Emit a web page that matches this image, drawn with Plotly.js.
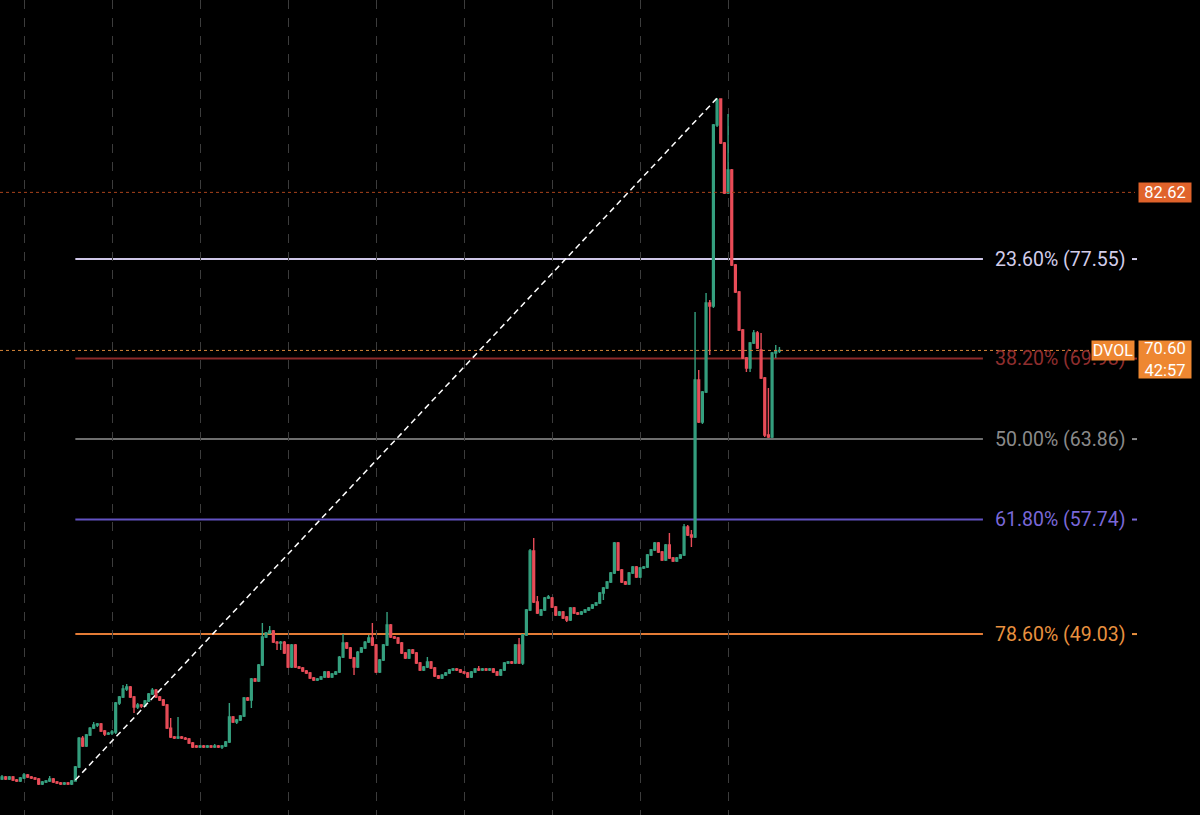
<!DOCTYPE html>
<html>
<head>
<meta charset="utf-8">
<script src="https://cdn.plot.ly/plotly-3.0.1.min.js"></script>
<style>html,body{margin:0;padding:0;background:#000;}#chart{width:1200px;height:815px;}</style>
</head>
<body>
<div id="chart"></div>
<script>
// Hourly DVOL candles
const opens = [38.01,38.16,38.01,38.16,37.93,37.85,38.08,38.31,38.16,38.08,38.01,37.63,37.78,37.85,38.01,37.78,37.70,37.63,37.70,37.63,
37.85,38.92,41.12,40.52,41.35,41.88,42.11,42.19,41.66,41.43,41.50,41.58,43.79,44.24,44.85,45.00,44.24,43.48,43.63,43.56,
43.94,44.47,44.77,44.24,44.01,43.63,41.88,41.20,41.12,41.20,41.12,41.05,40.74,40.52,40.44,40.52,40.44,40.52,40.44,40.52,
40.44,40.52,40.82,42.72,42.34,42.49,42.80,44.17,44.01,45.61,45.46,46.68,48.81,49.11,49.26,48.42,48.35,48.42,48.20,46.52,
48.20,46.52,46.45,46.22,46.07,45.69,45.54,45.61,45.76,46.14,45.76,45.99,46.14,47.28,48.35,47.97,47.21,46.52,47.66,47.97,
48.42,48.73,48.20,46.14,47.06,48.20,49.72,48.81,48.73,48.35,47.59,47.21,47.82,47.59,46.83,46.30,46.52,46.90,46.45,45.84,
45.69,45.91,46.07,46.30,46.37,46.30,46.14,46.07,45.76,46.14,46.37,46.30,46.37,46.30,46.37,46.14,45.91,46.30,46.83,46.90,
46.83,48.20,46.83,48.96,50.86,55.35,51.47,50.48,50.86,51.77,51.77,51.09,50.48,50.71,50.33,50.10,51.01,50.63,50.55,50.71,
50.86,51.01,51.24,51.39,52.15,52.53,52.99,53.67,55.95,53.90,52.99,52.84,53.67,54.13,53.37,54.05,54.13,55.04,55.42,55.95,
55.27,54.66,55.80,54.81,54.58,54.81,55.04,57.17,56.56,56.41,68.35,65.16,67.44,74.21,73.98,87.74,89.72,86.37,82.57,84.32,
77.10,75.04,72.15,70.02,69.26,71.16,71.92,70.63,68.50,64.17,64.02,70.40,70.55];
const highs = [38.31,38.23,38.23,38.23,38.01,38.16,38.46,38.39,38.23,38.16,38.08,37.85,37.93,38.23,38.08,37.85,37.78,37.78,37.78,37.93,
39.00,41.20,41.28,41.43,41.96,42.34,42.26,42.26,41.73,41.58,41.73,43.86,44.32,45.15,45.23,45.08,44.32,43.79,43.71,44.01,
44.55,44.93,44.85,44.32,44.09,43.71,42.65,41.28,42.72,41.28,41.20,41.12,40.82,40.59,40.59,40.59,40.59,40.59,40.67,40.59,
40.59,40.90,43.79,42.80,42.57,42.87,44.24,44.24,45.69,45.69,46.75,49.87,49.19,49.64,49.34,48.50,48.50,48.50,48.27,48.27,
48.27,46.60,46.52,46.30,46.14,45.76,45.69,45.84,46.22,46.22,46.07,46.22,47.36,49.03,48.42,48.05,47.28,47.74,48.05,48.50,
48.96,49.87,48.27,47.13,48.27,50.71,49.79,48.88,48.81,48.42,47.66,47.89,47.89,47.66,46.90,46.60,47.28,46.98,46.52,45.91,
45.99,46.14,46.37,46.45,46.45,46.37,46.22,46.14,46.22,46.45,46.60,46.45,46.45,46.45,46.45,46.22,46.37,46.90,46.98,46.98,
48.27,48.73,49.03,50.93,55.50,56.33,51.92,50.93,51.85,52.00,51.85,51.16,50.78,50.78,50.40,51.09,51.09,50.71,50.78,50.93,
51.09,51.32,51.47,52.23,52.61,53.06,53.75,56.03,56.03,53.98,53.06,53.75,54.20,54.20,54.13,54.20,55.12,55.50,56.03,56.03,
55.35,55.88,56.71,54.89,54.89,55.12,57.40,57.32,56.94,73.52,69.11,67.51,74.97,74.43,87.82,89.79,89.74,86.45,88.58,84.40,
77.18,75.12,72.23,70.10,71.24,72.15,72.08,71.92,68.58,67.74,70.48,71.01,70.86];
const lows = [37.93,37.93,37.93,37.85,37.78,37.78,38.01,38.08,38.01,37.93,37.55,37.55,37.70,37.78,37.70,37.63,37.55,37.55,37.55,37.55,
37.93,38.84,40.44,40.44,41.28,41.81,41.96,41.58,41.28,41.35,41.35,41.43,43.63,44.17,44.70,44.17,43.03,43.33,43.41,43.48,
43.86,44.39,44.17,43.94,43.56,41.81,41.12,41.05,41.05,41.05,40.97,40.67,40.36,40.36,40.36,40.36,40.36,40.36,40.36,40.36,
40.29,40.44,40.74,42.26,42.19,42.42,42.72,43.94,43.41,45.38,45.38,46.60,48.73,49.03,48.35,47.82,47.82,47.51,46.45,46.45,
46.45,46.37,46.14,45.99,45.61,45.46,45.46,45.54,45.69,45.69,45.69,45.91,46.07,47.21,47.89,47.13,45.91,46.45,47.59,47.89,
48.35,48.12,46.07,46.07,46.98,48.12,48.73,48.65,48.27,47.51,47.13,47.13,47.51,46.75,46.22,46.22,46.45,46.37,45.76,45.61,
45.61,45.84,45.99,46.22,46.22,46.07,45.99,45.69,45.69,46.07,46.22,46.22,46.22,46.22,46.07,45.84,45.84,46.22,46.75,46.75,
46.75,46.75,46.68,48.88,50.78,51.39,50.55,50.40,50.78,51.69,51.01,50.40,50.40,50.17,49.95,50.02,50.55,50.48,50.48,50.63,
50.78,50.93,51.16,51.32,51.62,52.46,52.91,53.60,53.82,52.91,52.76,52.76,53.60,53.29,53.29,53.98,54.05,54.97,55.35,55.19,
54.58,54.58,54.74,54.51,54.51,54.74,54.97,56.49,55.65,56.33,65.08,65.01,67.36,70.25,73.83,87.59,86.30,82.49,82.49,77.02,
74.97,72.08,69.94,68.96,68.96,71.09,70.71,68.43,64.02,63.94,63.94,70.02,70.40];
const closes = [38.16,38.01,38.16,37.93,37.85,38.08,38.31,38.16,38.08,38.01,37.63,37.78,37.85,38.01,37.78,37.70,37.63,37.70,37.63,37.85,
38.92,41.12,40.52,41.35,41.88,42.11,42.19,41.66,41.43,41.50,41.58,43.79,44.24,44.85,45.00,44.24,43.48,43.63,43.56,43.94,
44.47,44.77,44.24,44.01,43.63,41.88,41.20,41.12,41.20,41.12,41.05,40.74,40.44,40.44,40.52,40.44,40.52,40.44,40.52,40.44,
40.52,40.82,42.72,42.34,42.49,42.80,44.17,44.01,45.61,45.46,46.68,48.81,49.11,49.26,48.42,48.35,48.42,47.59,46.52,48.20,
46.52,46.45,46.22,46.07,45.69,45.54,45.61,45.76,46.14,45.76,45.99,46.14,47.28,48.35,47.97,47.21,46.52,47.66,47.97,48.42,
48.73,48.20,46.14,47.06,48.20,49.72,48.81,48.73,48.35,47.59,47.21,47.82,47.59,46.83,46.30,46.52,46.90,46.45,45.84,45.69,
45.91,46.07,46.30,46.37,46.30,46.14,46.07,45.76,46.14,46.37,46.30,46.37,46.30,46.37,46.14,45.91,46.30,46.83,46.90,46.83,
48.20,46.83,48.96,50.86,55.35,51.47,50.63,50.86,51.77,51.85,51.09,50.48,50.71,50.25,50.10,51.01,50.63,50.55,50.71,50.86,
51.01,51.24,51.39,52.15,52.53,52.99,53.67,55.95,53.90,52.99,52.84,53.67,54.13,53.37,54.05,54.13,55.04,55.42,55.95,55.27,
54.66,55.80,54.81,54.58,54.81,55.04,57.17,56.56,56.41,68.35,65.16,67.44,74.21,73.98,87.74,89.64,86.37,82.57,84.32,77.10,
75.04,72.15,70.02,69.26,71.16,71.92,70.78,68.50,64.17,64.02,70.40,70.55,70.60];

// Day separators (candle index of each new day)
const dayBoundaries = [6,30,54,78,102,126,150,174,198];

// Fibonacci retracement (drawn from swing low to swing high)
const swingLowIndex = 20, swingLow = 37.93;
const swingHighIndex = 195, swingHigh = 89.79;
const fibLabels = ['23.60%','38.20%','50.00%','61.80%','78.60%'];
const fibValues = [77.55, 69.98, 63.86, 57.74, 49.03];
const fibLineColors = ['#cfc7e8','#8c2a2a','#6e6e6e','#6252c2','#e47c36'];
const fibTextColors = ['#d2cdea','#8f2e2e','#8a8a8a','#7a68d8','#e9913f'];
const fibEndIndex = 267.5;

// Price-scale markers
const highMarker = 82.62;
const lastPrice = 70.60;
const symbol = 'DVOL';
const countdown = '42:57';

const idx = closes.map((_, i) => i);
const green = '#35a07f', red = '#e84c58';

const traces = [
  {
    type: 'candlestick', x: idx, open: opens, high: highs, low: lows, close: closes,
    increasing: {line: {color: green, width: 1.4}, fillcolor: green},
    decreasing: {line: {color: red, width: 1.4}, fillcolor: red},
    whiskerwidth: 0, hoverinfo: 'skip', showlegend: false
  },
  {
    type: 'scatter', mode: 'lines', x: [swingLowIndex, swingHighIndex], y: [swingLow, swingHigh],
    line: {color: '#ffffff', width: 1.5, dash: '6px,4px'}, hoverinfo: 'skip', showlegend: false
  }
];

const shapes = [];
const annotations = [];
const plotW = 1135;
fibValues.forEach((v, k) => {
  shapes.push({type: 'line', xref: 'x', yref: 'y', x0: swingLowIndex, x1: fibEndIndex, y0: v, y1: v,
    line: {color: fibLineColors[k], width: 2}, layer: 'below'});
  shapes.push({type: 'line', xref: 'paper', yref: 'y', x0: 1132 / plotW, x1: 1137 / plotW, y0: v, y1: v,
    line: {color: fibTextColors[k], width: 2}});
  annotations.push({xref: 'paper', yref: 'y', x: 993 / plotW, y: v, xanchor: 'left', yanchor: 'middle',
    text: fibLabels[k] + ' (' + v.toFixed(2) + ')', showarrow: false,
    font: {family: 'Roboto, Arial, sans-serif', size: 19.5, color: fibTextColors[k]}});
});
// dotted price lines
shapes.push({type: 'line', xref: 'paper', yref: 'y', x0: 0, x1: 1, y0: highMarker, y1: highMarker,
  line: {color: '#a8421c', width: 1, dash: 'dot'}});
shapes.push({type: 'line', xref: 'paper', yref: 'y', x0: 0, x1: 1091 / plotW, y0: lastPrice, y1: lastPrice,
  line: {color: '#d8873a', width: 1, dash: 'dot'}});

annotations.push({xref: 'paper', yref: 'y', x: 1165 / plotW, y: highMarker, xanchor: 'center', yanchor: 'middle',
  text: highMarker.toFixed(2), showarrow: false, bgcolor: '#e0632b', width: 52, height: 19, borderpad: 0,
  font: {family: 'Roboto, Arial, sans-serif', size: 16.5, color: '#ffffff'}});
annotations.push({xref: 'paper', yref: 'y', x: 1113 / plotW, y: lastPrice, xanchor: 'center', yanchor: 'middle',
  text: symbol, showarrow: false, bgcolor: '#ee8731', width: 42, height: 19, borderpad: 0,
  font: {family: 'Roboto, Arial, sans-serif', size: 16, color: '#ffffff'}});
annotations.push({xref: 'paper', yref: 'y', x: 1165 / plotW, y: lastPrice, xanchor: 'center', yanchor: 'top', yshift: 10,
  text: lastPrice.toFixed(2) + '<br>' + countdown, showarrow: false, bgcolor: '#ee8731', width: 52, height: 37, borderpad: 0,
  font: {family: 'Roboto, Arial, sans-serif', size: 16.5, color: '#ffffff'}});

const layout = {
  width: 1200, height: 815,
  paper_bgcolor: '#000000', plot_bgcolor: '#000000',
  margin: {l: 0, r: 65, t: 0, b: 0},
  showlegend: false,
  xaxis: {range: [-0.545, 308.97], tickmode: 'array', tickvals: dayBoundaries, showticklabels: false, ticks: '',
    showgrid: true, gridcolor: '#3c3c3c', griddash: 'dash', gridwidth: 1, zeroline: false, showline: false,
    rangeslider: {visible: false}, fixedrange: true},
  yaxis: {range: [35.27, 97.25], showgrid: false, showticklabels: false, zeroline: false, showline: false, fixedrange: true},
  shapes: shapes,
  annotations: annotations,
  font: {family: 'Roboto, Arial, sans-serif', color: '#ffffff'}
};

Plotly.newPlot('chart', traces, layout, {displayModeBar: false, staticPlot: true});
</script>
</body>
</html>
